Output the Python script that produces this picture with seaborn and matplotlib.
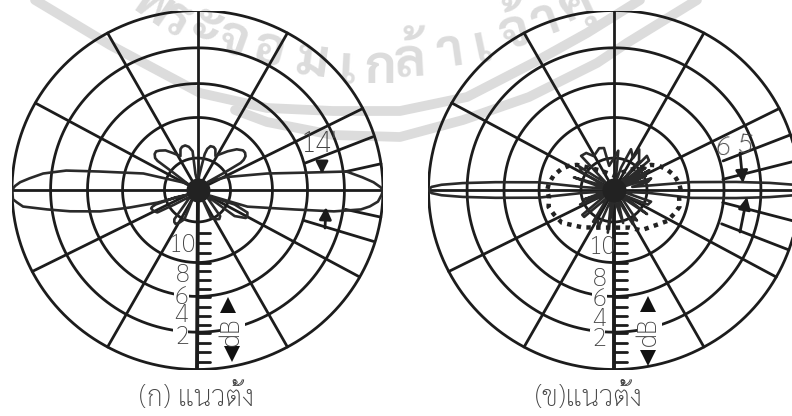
# -*- coding: utf-8 -*-
import matplotlib
matplotlib.use('Agg')
import matplotlib.pyplot as plt
from matplotlib.patches import Rectangle
import numpy as np
import pandas as pd
import seaborn as sns

# grid of the two polar charts
ring_levels = [0.178, 0.404, 0.593, 0.792, 1.0]
spoke_angles = [0, 27, 61, 90, 119, 151, 180, 207, 241, 270, 299, 331]
scale_ticks = [0.24, 0.295, 0.35, 0.45, 0.50, 0.55, 0.65, 0.70, 0.75, 0.85, 0.905, 0.96]

# beam markers (angle at inner end, level at inner end, angle at rim, level at rim)
marks_a = [(14.5, 0.60, 17.4, 0.99), (-16.5, 0.60, -16.8, 0.99),
           (7.3, 0.805, 8.4, 1.0), (-7.7, 0.805, -8.7, 1.0)]
marks_b = [(15.4, 0.61, 17.9, 1.0), (-18.0, 0.61, -19.5, 1.0),
           (5.8, 0.59, 9.3, 0.975), (-6.8, 0.59, -10.1, 0.98)]

# (ก) radiation pattern, counter clockwise from 0 degrees
angle_a = [0, 0.9, 2.6, 4.5, 7.3, 9.3, 13.8, 25, 39,
           33.7, 33, 34, 36, 39, 42, 47, 53, 63, 67, 70, 74, 77, 79, 83, 88,
           97, 97, 101, 105, 109, 112, 116, 123, 128, 133, 136, 139, 142, 143, 143.5, 150,
           147.5, 162.5, 169, 171.3, 173.7, 175.9, 177.4, 178.7, 180,
           183, 184.1, 185.6, 187.6, 189.8, 192.8, 195, 198, 206,
           199, 199.7, 201, 202.4, 206, 210, 213, 218.6,
           225, 232.5, 235, 238, 242, 246.6, 243,
           297, 295, 301, 306, 310, 321,
           332, 338, 335, 331, 329, 324, 326,
           333, 341, 348.3, 350.8, 353, 354.4, 356.2, 358.5, 360]
level_a = [1, 0.987, 0.95, 0.893, 0.81, 0.60, 0.385, 0.17, 0.07,
           0.175, 0.277, 0.30, 0.32, 0.33, 0.33, 0.31, 0.27, 0.213, 0.247, 0.255, 0.254, 0.235, 0.204, 0.09, 0.04,
           0.09, 0.218, 0.245, 0.257, 0.255, 0.245, 0.21, 0.246, 0.28, 0.30, 0.31, 0.306, 0.29, 0.27, 0.155, 0.04,
           0.07, 0.306, 0.54, 0.716, 0.837, 0.908, 0.957, 0.984, 1,
           0.996, 0.975, 0.945, 0.818, 0.697, 0.538, 0.375, 0.227, 0.06,
           0.13, 0.24, 0.262, 0.27, 0.265, 0.25, 0.15, 0.07,
           0.06, 0.205, 0.218, 0.223, 0.205, 0.177, 0.06,
           0.06, 0.167, 0.19, 0.20, 0.19, 0.07,
           0.08, 0.216, 0.297, 0.307, 0.303, 0.247, 0.078,
           0.06, 0.285, 0.535, 0.745, 0.888, 0.934, 0.975, 0.993, 1]

# (ข) radiation pattern
angle_b = [0, 1, 1.8, 2.7, 3.9, 6, 10,
           14, 18, 21, 25, 28, 30, 33, 36, 39, 41, 47, 50, 50, 59, 60, 68, 73, 78,
           84, 101, 103, 109, 120, 126, 133, 138, 145, 150, 156, 162, 170,
           174.5, 174, 176.1, 177.3, 178.2, 179, 180, 181, 181.8, 182.7, 183.9, 186, 185.5,
           190, 198, 202, 204, 212, 219, 223, 230, 237.5, 243, 248, 254,
           262, 272, 285, 292, 298, 303, 306, 315, 323, 330, 336, 342, 348, 355,
           354, 356.1, 357.3, 358.2, 359, 360]
level_b = [1.03, 1.01, 0.96, 0.84, 0.66, 0.42, 0.10,
           0.19, 0.21, 0.05, 0.19, 0.05, 0.22, 0.05, 0.21, 0.05, 0.25, 0.26, 0.05, 0.21, 0.264, 0.205, 0.245, 0.13, 0.04,
           0.22, 0.137, 0.24, 0.246, 0.218, 0.255, 0.26, 0.05, 0.23, 0.20, 0.05, 0.227, 0.05,
           0.17, 0.41, 0.64, 0.817, 0.93, 0.984, 1, 0.984, 0.93, 0.817, 0.64, 0.41, 0.17,
           0.05, 0.17, 0.05, 0.20, 0.05, 0.22, 0.22, 0.05, 0.21, 0.19, 0.23, 0.05,
           0.24, 0.05, 0.19, 0.05, 0.215, 0.19, 0.21, 0.05, 0.223, 0.05, 0.20, 0.21, 0.05, 0.19,
           0.42, 0.66, 0.84, 0.96, 1.01, 1.03]

# (ข) dotted pattern
dot_angle = [0, 6, 14, 21.6, 29, 35, 57, 90, 123, 145, 151, 158, 166, 174, 180,
             187, 195, 203, 213, 231, 248, 292, 303, 322, 329, 338, 345, 354, 360]
dot_level = [0.36, 0.353, 0.335, 0.308, 0.278, 0.244, 0.129, 0.08, 0.129, 0.244, 0.278,
             0.308, 0.335, 0.353, 0.36, 0.353, 0.365, 0.351, 0.335, 0.268, 0.226, 0.226,
             0.268, 0.308, 0.335, 0.351, 0.365, 0.353, 0.36]

captions = ['(ก) แนวตั้ง', '(ข)แนวตั้ง']
db_labels = ['10', '8', '6', '4', '2']

sns.set_theme(style='white')
plt.rcParams['font.family'] = ['Sarabun', 'Noto Sans Thai', 'DejaVu Sans']

W, H = 792, 416
INK = '#1c1c1c'
TXT = '#444444'
WM = '#dcdcdc'
fig = plt.figure(figsize=(W / 100, H / 100), dpi=100, facecolor='white')


def pixel_axes(z):
    a = fig.add_axes([0, 0, 1, 1], zorder=z)
    a.set_xlim(0, W)
    a.set_ylim(H, 0)
    a.axis('off')
    a.patch.set_alpha(0)
    return a


def polar_xy(angle, level):
    t = np.radians(np.asarray(angle, dtype=float))
    return np.asarray(level) * np.cos(t), np.asarray(level) * np.sin(t)


def draw_chart(left, angle, level, marks):
    ax = fig.add_axes([left / W, 1 - 369.5 / H, 371 / W, 359 / H], zorder=2)
    ax.set_xlim(-1, 1)
    ax.set_ylim(-1, 1)
    ax.axis('off')
    ax.patch.set_alpha(0)
    circle = np.linspace(0, 360, 361)
    for r in ring_levels:
        x, y = polar_xy(circle, np.full(361, r))
        ax.plot(x, y, color=INK, lw=2.0, solid_capstyle='butt')
    for a in spoke_angles:
        x, y = polar_xy([a, a], [0, 1])
        ax.plot(x, y, color=INK, lw=2.8 if a == 270 else 2.0)
    for a0, r0, a1, r1 in marks:
        x, y = polar_xy([a0, a1], [r0, r1])
        ax.plot(x, y, color=INK, lw=2.0)
    for r in scale_ticks + [0.405, 0.595, 0.795]:
        ax.plot([0, 0.07], [-r, -r], color=INK, lw=2.0)
    x, y = polar_xy(angle, level)
    df = pd.DataFrame({'x': x, 'y': y})
    sns.lineplot(data=df, x='x', y='y', sort=False, estimator=None, color='#2a2a2a', lw=1.9, ax=ax)
    ax.scatter([0], [0], s=300, color='#222222', zorder=5, linewidths=0)
    ax.set_xlim(-1, 1)
    ax.set_ylim(-1, 1)
    ax.set_xlabel('')
    ax.set_ylabel('')
    return ax


# watermark behind everything
bg = pixel_axes(0)
band_1 = [(35, 0), (110, 45), (200, 93), (267, 108), (333, 111), (400, 111), (467, 97),
          (533, 63), (587, 33), (640, 0)]
band_2 = [(235, 110), (267, 122), (333, 135), (400, 137), (463, 120), (529, 97), (597, 63),
          (627, 43), (697, 0)]
for band in (band_1, band_2):
    bx, by = zip(*band)
    bg.plot(bx, by, color=WM, lw=7, solid_capstyle='round')
wm_letters = [('พ', 152, 6, 35), ('ร', 175, 22, 30), ('ะ', 206, 28, 25), ('จ', 233, 41, 20),
              ('อ', 268, 52, 15), ('ม', 312, 63, 8), ('เ', 347, 70, 3), ('ก', 380, 70, 0),
              ('ล้', 410, 62, -3), ('า', 450, 53, -8), ('เ', 482, 48, -12), ('จ้', 515, 33, -15),
              ('า', 545, 22, -20), ('คุ', 578, 9, -25)]
for ch, lx, ly, rot in wm_letters:
    bg.text(lx, ly, ch, color=WM, fontsize=38, fontweight='bold', rotation=-rot,
            ha='center', va='center', rotation_mode='anchor')

draw_chart(12, angle_a, level_a, marks_a)
ax_b = draw_chart(428.5, angle_b, level_b, marks_b)
dx, dy = polar_xy(dot_angle, dot_level)
ax_b.plot(dx, dy, color='#222222', lw=3.2, linestyle=(0, (1, 1.2)))

# texts and arrows on top
fg = pixel_axes(4)
label_y = [[245, 276, 297, 315, 337], [247, 280, 300, 319, 340]]
label_x = [[183, 183, 182, 181, 182], [603, 600, 600, 599, 599]]
for lx, ly in zip(label_x, label_y):
    # the rings stop short of the 6 and 2 labels
    fg.add_patch(Rectangle((lx[2] - 8, ly[2] - 9), 15, 18, fc='white', ec='none'))
    fg.add_patch(Rectangle((lx[4] - 9, ly[4] - 11), 15, 18, fc='white', ec='none'))
    for s, x0, y0 in zip(db_labels, lx, ly):
        fg.text(x0, y0, s, color=TXT, fontsize=18.5, fontweight='light', ha='center', va='center')
for x0, x_up, y_up, x_dn, y_dn in [(232, 228, 305, 232, 354), (649, 648, 304, 648, 358)]:
    fg.add_patch(Rectangle((x0 - 12, 317), 25, 28, fc='white', ec='none'))
    fg.text(x0, 331, 'dB', color=TXT, fontsize=19, fontweight='light', rotation=90, ha='center',
            va='center')
    fg.plot([x_up], [y_up], marker='^', ms=11, color='#111111', mew=0)
    fg.plot([x_dn], [y_dn], marker='v', ms=11, color='#111111', mew=0)
fg.text(319, 145, "14'", color=TXT, fontsize=21, fontweight='light', ha='center', va='center')
fg.text(723, 148, '6', color=TXT, fontsize=20, fontweight='light', ha='center', va='center', rotation=-8)
fg.text(745, 146, '5', color=TXT, fontsize=20, fontweight='light', ha='center', va='center', rotation=-8)
for p0, p1 in [((322, 163), (322, 174)), ((325, 228), (326, 207)),
               ((740, 153), (743, 183)), ((740, 232), (747, 197))]:
    fg.annotate('', xy=p1, xytext=p0,
                arrowprops=dict(arrowstyle='-|>,head_width=0.3,head_length=0.6', color=INK, lw=2.0,
                                shrinkA=0, shrinkB=0))
fg.text(197, 398, captions[0], color=TXT, fontsize=20.5, fontweight='light', ha='center', va='center')
fg.text(589, 398, captions[1], color=TXT, fontsize=20.5, fontweight='light', ha='center', va='center')

fig.savefig('out.png', dpi=100)
